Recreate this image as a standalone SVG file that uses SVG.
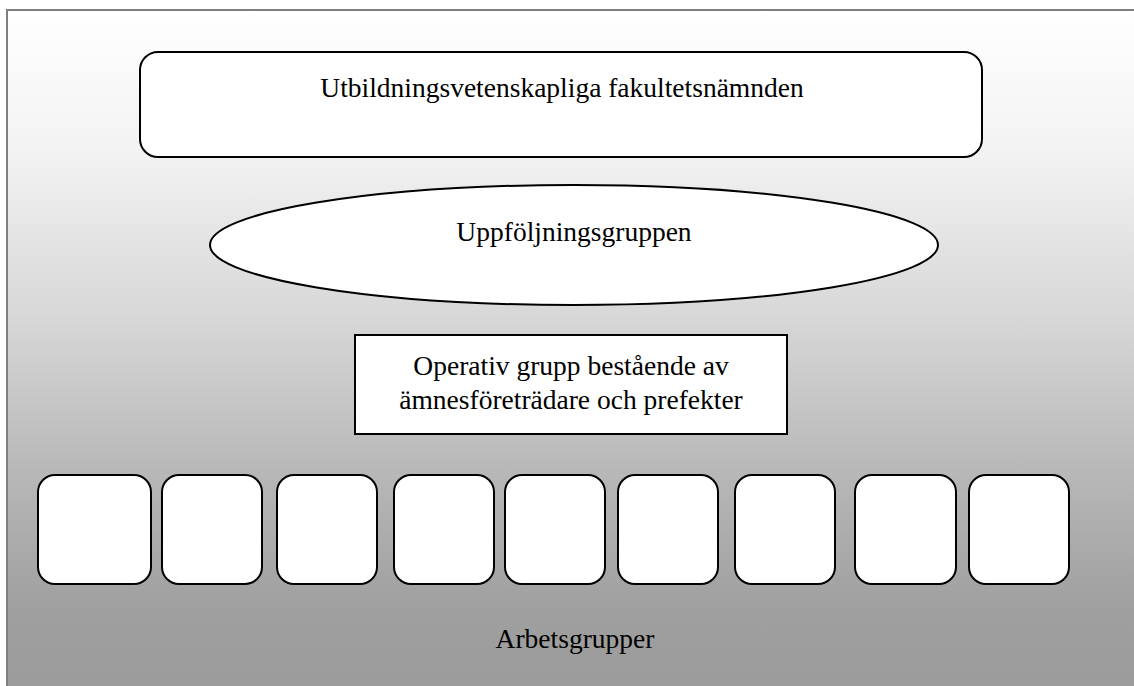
<svg xmlns="http://www.w3.org/2000/svg" width="1134" height="686" viewBox="0 0 1134 686">
  <defs>
    <linearGradient id="bg" gradientUnits="userSpaceOnUse" x1="0" y1="10" x2="0" y2="686">
      <stop offset="0" stop-color="#ffffff"/>
      <stop offset="0.2" stop-color="#f3f3f3"/>
      <stop offset="0.45" stop-color="#d8d8d8"/>
      <stop offset="0.68" stop-color="#b8b8b8"/>
      <stop offset="0.88" stop-color="#a0a0a0"/>
      <stop offset="1" stop-color="#9b9b9b"/>
    </linearGradient>
  </defs>
  <style>
    .shape { fill: #ffffff; stroke: #000000; stroke-width: 2; }
    .lbl { font-family: "Liberation Serif", "Times New Roman", serif; font-size: 27.5px; fill: #000000; text-anchor: middle; }
  </style>
  <rect x="0" y="0" width="1134" height="686" fill="#ffffff"/>
  <rect id="frame" x="7" y="10" width="1140" height="690" fill="url(#bg)" stroke="#7f7f7f" stroke-width="2"/>

  <g id="connectors"></g>

  <g id="node-fakultetsnamnden">
    <rect class="shape" x="140" y="52" width="842" height="105" rx="18" ry="18"/>
    <text class="lbl" x="562" y="97">Utbildningsvetenskapliga fakultetsnämnden</text>
  </g>

  <g id="node-uppfoljningsgruppen">
    <ellipse class="shape" cx="574" cy="245" rx="364" ry="60"/>
    <text class="lbl" x="574" y="241">Uppföljningsgruppen</text>
  </g>

  <g id="node-operativ">
    <rect class="shape" x="355" y="335" width="432" height="99"/>
    <text class="lbl" x="571" y="375">Operativ grupp bestående av</text>
    <text class="lbl" x="571" y="409">ämnesföreträdare och prefekter</text>
  </g>

  <g id="node-ag1"><rect class="shape" x="38" y="475" width="113" height="109" rx="17" ry="17"/></g>
  <g id="node-ag2"><rect class="shape" x="162" y="475" width="100" height="109" rx="17" ry="17"/></g>
  <g id="node-ag3"><rect class="shape" x="277" y="475" width="100" height="109" rx="17" ry="17"/></g>
  <g id="node-ag4"><rect class="shape" x="394" y="475" width="100" height="109" rx="17" ry="17"/></g>
  <g id="node-ag5"><rect class="shape" x="505" y="475" width="100" height="109" rx="17" ry="17"/></g>
  <g id="node-ag6"><rect class="shape" x="618" y="475" width="100" height="109" rx="17" ry="17"/></g>
  <g id="node-ag7"><rect class="shape" x="735" y="475" width="100" height="109" rx="17" ry="17"/></g>
  <g id="node-ag8"><rect class="shape" x="855" y="475" width="101" height="109" rx="17" ry="17"/></g>
  <g id="node-ag9"><rect class="shape" x="969" y="475" width="100" height="109" rx="17" ry="17"/></g>

  <g id="label-arbetsgrupper">
    <text class="lbl" x="575" y="648">Arbetsgrupper</text>
  </g>
</svg>
